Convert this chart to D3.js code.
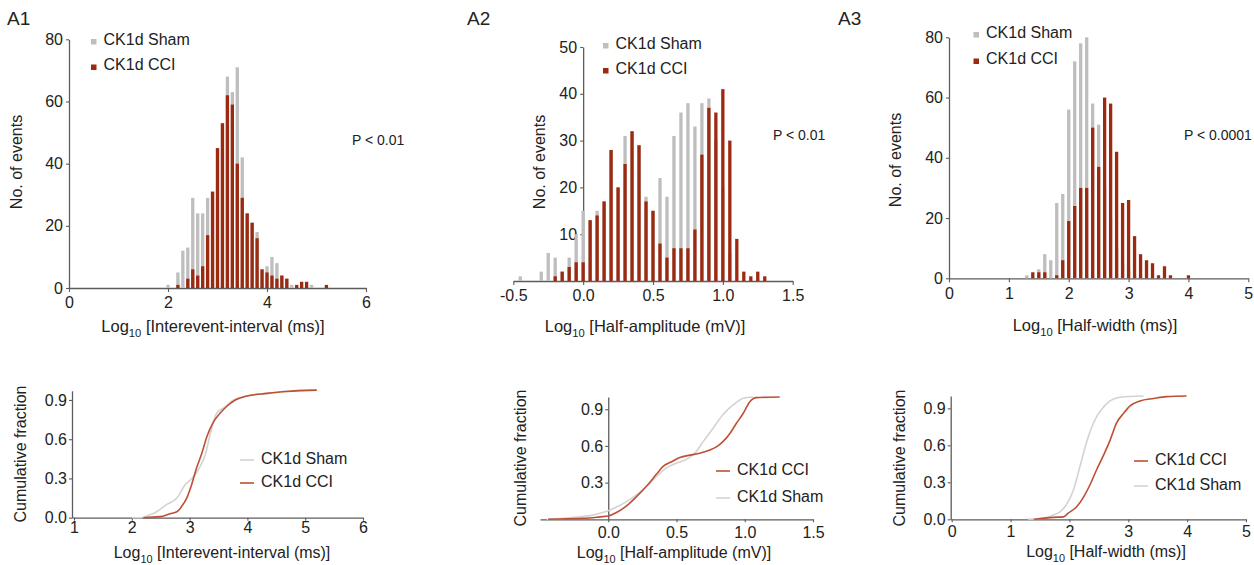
<!DOCTYPE html>
<html><head><meta charset="utf-8">
<script src="https://cdn.jsdelivr.net/npm/d3@7"></script>
<style>
body{margin:0;background:#fff;}
svg text{font-family:"Liberation Sans",Arial,Helvetica,sans-serif;fill:#222;}
</style></head><body>
<svg id="fig" width="1254" height="565"></svg>
<script>
// ---------- Histogram data (bin centres, counts per bin) ----------
const a1Bins = [2.0,2.1,2.2,2.3,2.4,2.5,2.6,2.7,2.8,2.9,3.0,3.1,3.2,3.3,3.4,3.5,3.6,3.7,3.8,3.9,4.0,4.1,4.2,4.3,4.4,4.5,4.6,4.7,4.8,4.9,5.0,5.1,5.2];
const a1Sham = [1,0,5,12,13,29,24,24,29,31,45,53,68,63,71,42,24,21,18,6,7,10,8,4,3,1,0,0,0,1,0,0,0];
const a1Cci  = [0,0,1,0,3,6,4,7,17,31,45,53,62,59,40,29,24,21,16,6,5,4,3,4,3,0,1,2,2,0,0,0,1];

const a2Bins = [-0.45,-0.40,-0.35,-0.30,-0.25,-0.20,-0.15,-0.10,-0.05,0.00,0.05,0.10,0.15,0.20,0.25,0.30,0.35,0.40,0.45,0.50,0.55,0.60,0.65,0.70,0.75,0.80,0.85,0.90,0.95,1.00,1.05,1.10,1.15,1.20,1.25,1.30];
const a2Sham = [1,0,0,2,6,5,2,5,10,15,13,15,17,28,20,31,32,29,18,15,22,18,31,36,38,33,38,39,30,20,6,0,0,0,0,0];
const a2Cci  = [0,0,0,0,0,1,2,3,4,4,13,14,17,28,20,25,32,29,17,15,8,5,7,7,7,11,27,37,36,41,30,9,2,1,2,1];

const a3Bins = [1.3,1.4,1.5,1.6,1.7,1.8,1.9,2.0,2.1,2.2,2.3,2.4,2.5,2.6,2.7,2.8,2.9,3.0,3.1,3.2,3.3,3.4,3.5,3.6,3.7,3.8,3.9,4.0];
const a3Sham = [1,0,3,8,6,25,28,56,72,78,80,58,51,30,20,10,5,3,1,1,0,0,0,0,0,0,0,0];
const a3Cci  = [0,2,2,2,0,1,6,19,24,30,30,50,37,60,58,42,25,26,14,8,6,5,1,4,1,0,0,1];

// ---------- Cumulative fraction curves ----------
const a1CumShamX = [2.0,2.14,2.3,2.43,2.6,2.78,2.92,3.04,3.1,3.18,3.27,3.36,3.47,3.59,3.76,3.99,4.34,4.6,5.2];
const a1CumShamY = [0,0,0.02,0.046,0.1,0.15,0.25,0.30,0.33,0.39,0.48,0.645,0.8,0.84,0.9,0.93,0.95,0.965,0.975];
const a1CumCciX  = [2.2,2.49,2.66,2.78,2.86,2.95,3.04,3.12,3.21,3.3,3.41,3.53,3.64,3.79,3.99,4.34,4.68,5.2];
const a1CumCciY  = [0,0.008,0.03,0.045,0.085,0.15,0.26,0.38,0.49,0.62,0.73,0.8,0.85,0.9,0.93,0.95,0.965,0.975];

const a2CumShamX = [-0.45,-0.256,-0.134,-0.06,0.0,0.06,0.134,0.207,0.28,0.354,0.427,0.5,0.573,0.634,0.695,0.768,0.84,0.915,0.99,1.06];
const a2CumShamY = [0,0.016,0.03,0.05,0.07,0.1,0.145,0.2,0.27,0.35,0.42,0.46,0.49,0.54,0.635,0.745,0.855,0.935,0.99,1.0];
const a2CumCciX  = [-0.44,-0.18,-0.06,0.0,0.06,0.134,0.207,0.28,0.354,0.4,0.463,0.524,0.598,0.67,0.744,0.79,0.84,0.89,0.939,0.988,1.036,1.085,1.256];
const a2CumCciY  = [0,0.008,0.02,0.027,0.055,0.11,0.185,0.27,0.37,0.43,0.47,0.505,0.525,0.54,0.567,0.59,0.635,0.7,0.785,0.865,0.96,0.995,1.0];

const a3CumShamX = [1.3,1.56,1.73,1.84,1.95,2.07,2.18,2.27,2.35,2.46,2.58,2.69,2.86,3.26];
const a3CumShamY = [0,0.01,0.035,0.06,0.12,0.24,0.43,0.59,0.71,0.83,0.91,0.96,0.99,1.0];
const a3CumCciX  = [1.4,1.73,1.9,1.98,2.12,2.24,2.35,2.46,2.58,2.69,2.8,2.92,3.03,3.2,3.43,3.65,3.99];
const a3CumCciY  = [0,0.016,0.02,0.05,0.1,0.18,0.28,0.4,0.52,0.64,0.78,0.86,0.92,0.96,0.98,0.995,1.0];

// ---------- Tick values and labels ----------
const a1HistXTicks = [0,2,4,6],            a1HistXLabels = ["0","2","4","6"];
const a1HistYTicks = [0,20,40,60,80],      a1HistYLabels = ["0","20","40","60","80"];
const a2HistXTicks = [-0.5,0,0.5,1,1.5],   a2HistXLabels = ["-0.5","0.0","0.5","1.0","1.5"];
const a2HistYTicks = [10,20,30,40,50],     a2HistYLabels = ["10","20","30","40","50"];
const a3HistXTicks = [0,1,2,3,4,5],        a3HistXLabels = ["0","1","2","3","4","5"];
const a3HistYTicks = [0,20,40,60,80],      a3HistYLabels = ["0","20","40","60","80"];

const a1CumXTicks = [1,2,3,4,5,6],         a1CumXLabels = ["1","2","3","4","5","6"];
const a2CumXTicks = [0,0.5,1,1.5],         a2CumXLabels = ["0.0","0.5","1.0","1.5"];
const a3CumXTicks = [0,1,2,3,4,5],         a3CumXLabels = ["0","1","2","3","4","5"];
const cumYTicks = [0,0.3,0.6,0.9],         cumYLabels = ["0.0","0.3","0.6","0.9"];
const a2CumYTicks = [0.3,0.6,0.9],         a2CumYLabels = ["0.3","0.6","0.9"];

const seriesNames = {sham: "CK1d Sham", cci: "CK1d CCI"};

// ---------- Styling ----------
const SHAM_BAR = "#bebebe", CCI_BAR = "#9b2a10";
const SHAM_LINE = "#d3d3d3", CCI_LINE = "#bd5034";
const AXIS = "#5c5c5c";
const BAR_W = 3.3;

const svg = d3.select("#fig");

function styleAxis(g) {
  g.select(".domain").attr("stroke", AXIS).attr("stroke-width", 1.3);
  g.selectAll(".tick line").attr("stroke", AXIS).attr("stroke-width", 1.1);
  g.selectAll(".tick text").attr("font-size", 16).attr("fill", "#222")
    .attr("font-family", '"Liberation Sans",Arial,sans-serif');
}

function logTitle(g, cx, y, rest, size) {
  const t = g.append("text").attr("x", cx).attr("y", y).attr("text-anchor", "middle")
    .attr("font-size", size);
  t.append("tspan").text("Log");
  t.append("tspan").attr("font-size", size * 0.68).attr("dy", 5).text("10");
  t.append("tspan").attr("dy", -5).text(" " + rest);
}

function yTitle(g, cx, cy, label) {
  g.append("text").attr("transform", `translate(${cx},${cy}) rotate(-90)`)
    .attr("text-anchor", "middle").attr("dy", "0.35em").attr("font-size", 16).text(label);
}

function histPanel(o) {
  const g = svg.append("g");
  const x = d3.scaleLinear().domain(o.xDomain).range(o.xRange);
  const y = d3.scaleLinear().domain(o.yDomain).range(o.yRange);

  const gx = g.append("g").attr("transform", `translate(0,${y(0)})`)
    .call(d3.axisBottom(x).tickValues(o.xTicks).tickFormat((d, i) => o.xLabels[i])
      .tickSize(4).tickSizeOuter(0).tickPadding(5));
  styleAxis(gx);
  const gy = g.append("g").attr("transform", `translate(${x(o.yAxisAt)},0)`)
    .call(d3.axisLeft(y).tickValues(o.yTicks).tickFormat((d, i) => o.yLabels[i])
      .tickSize(3).tickSizeOuter(0).tickPadding(o.yPad));
  styleAxis(gy);

  const bars = (vals, color) => g.append("g").selectAll("rect")
    .data(o.bins.map((b, i) => ({b, v: vals[i]})).filter(d => d.v > 0))
    .join("rect")
    .attr("x", d => x(d.b) - BAR_W / 2).attr("width", BAR_W)
    .attr("y", d => y(d.v)).attr("height", d => y(0) - y(d.v))
    .attr("fill", color);
  bars(o.sham, SHAM_BAR);
  bars(o.cci, CCI_BAR);

  // legend
  const lg = g.append("g");
  [[seriesNames.sham, SHAM_BAR, o.leg[1]], [seriesNames.cci, CCI_BAR, o.leg[2]]].forEach(([name, col, base]) => {
    lg.append("rect").attr("x", o.leg[0]).attr("y", base - 5.5).attr("width", 5.5).attr("height", 5.5).attr("fill", col);
    lg.append("text").attr("x", o.leg[0] + 12.5).attr("y", base).attr("font-size", 16).text(name);
  });

  g.append("text").attr("x", o.p[0]).attr("y", o.p[1]).attr("font-size", 14).text(o.pText);
  g.append("text").attr("x", o.tag[0]).attr("y", o.tag[1]).attr("font-size", 19).text(o.tagText);
  yTitle(g, o.yTitle[0], o.yTitle[1], "No. of events");
  logTitle(g, o.xTitle[0], o.xTitle[1], o.xTitleText, 16.5);
}

function cumPanel(o) {
  const g = svg.append("g");
  const x = d3.scaleLinear().domain(o.xDomain).range(o.xRange);
  const y = d3.scaleLinear().domain(o.yDomain).range(o.yRange);

  const gx = g.append("g").attr("transform", `translate(0,${y(0)})`)
    .call(d3.axisBottom(x).tickValues(o.xTicks).tickFormat((d, i) => o.xLabels[i])
      .tickSize(3).tickSizeOuter(0).tickPadding(o.xPad));
  styleAxis(gx);
  const gy = g.append("g").attr("transform", `translate(${o.yAxisX !== undefined ? o.yAxisX : x(o.yAxisAt)},0)`)
    .call(d3.axisLeft(y).tickValues(o.yTicks).tickFormat((d, i) => o.yLabels[i])
      .tickSize(3).tickSizeOuter(0).tickPadding(2));
  styleAxis(gy);

  const line = d3.line().x(d => x(d[0])).y(d => y(d[1])).curve(d3.curveMonotoneX);
  const draw = (xs, ys, col) => g.append("path")
    .datum(xs.map((v, i) => [v, ys[i]]))
    .attr("d", line).attr("fill", "none").attr("stroke", col).attr("stroke-width", 1.6);
  draw(o.shamX, o.shamY, SHAM_LINE);
  draw(o.cciX, o.cciY, CCI_LINE);

  const lg = g.append("g");
  o.legend.forEach(([key, base]) => {
    const col = key === "sham" ? SHAM_LINE : CCI_LINE;
    lg.append("line").attr("x1", o.legX).attr("x2", o.legX + 14)
      .attr("y1", base - 4).attr("y2", base - 4).attr("stroke", col).attr("stroke-width", 1.6);
    lg.append("text").attr("x", o.legX + 21).attr("y", base).attr("font-size", 16).text(seriesNames[key]);
  });

  yTitle(g, o.yTitle[0], o.yTitle[1], "Cumulative fraction");
  logTitle(g, o.xTitle[0], o.xTitle[1], o.xTitleText, 16);
}

// ---------- Top row: histograms ----------
histPanel({
  bins: a1Bins, sham: a1Sham, cci: a1Cci,
  xDomain: [0, 6], xRange: [69, 366], yDomain: [0, 80], yRange: [288, 39.3],
  xTicks: a1HistXTicks, xLabels: a1HistXLabels, yTicks: a1HistYTicks, yLabels: a1HistYLabels,
  yAxisAt: 0, yPad: 3,
  leg: [91, 44.5, 70], p: [352, 145], pText: "P < 0.01",
  tag: [7, 25], tagText: "A1", yTitle: [16, 162], xTitle: [213, 332],
  xTitleText: "[Interevent-interval (ms)]"
});
histPanel({
  bins: a2Bins, sham: a2Sham, cci: a2Cci,
  xDomain: [-0.5, 1.5], xRange: [513.3, 792.7], yDomain: [0, 50], yRange: [281, 47],
  xTicks: a2HistXTicks, xLabels: a2HistXLabels, yTicks: a2HistYTicks, yLabels: a2HistYLabels,
  yAxisAt: 0, yPad: 3,
  leg: [603, 48.5, 73.5], p: [773, 140], pText: "P < 0.01",
  tag: [467, 25], tagText: "A2", yTitle: [539, 162], xTitle: [645, 332],
  xTitleText: "[Half-amplitude (mV)]"
});
histPanel({
  bins: a3Bins, sham: a3Sham, cci: a3Cci,
  xDomain: [0, 5], xRange: [949, 1248.3], yDomain: [0, 80], yRange: [278.3, 37.3],
  xTicks: a3HistXTicks, xLabels: a3HistXLabels, yTicks: a3HistYTicks, yLabels: a3HistYLabels,
  yAxisAt: 0, yPad: 3,
  leg: [973.5, 37.5, 64], p: [1184, 140], pText: "P < 0.0001",
  tag: [838, 25], tagText: "A3", yTitle: [895.5, 160], xTitle: [1095, 331],
  xTitleText: "[Half-width (ms)]"
});

// ---------- Bottom row: cumulative fractions ----------
cumPanel({
  shamX: a1CumShamX, shamY: a1CumShamY, cciX: a1CumCciX, cciY: a1CumCciY,
  xDomain: [0.965, 6], xRange: [72, 363], yDomain: [0, 0.97], yRange: [517.7, 390.8],
  xTicks: a1CumXTicks, xLabels: a1CumXLabels, yTicks: cumYTicks, yLabels: cumYLabels,
  yAxisX: 72, xPad: 1,
  legX: 240, legend: [["sham", 464], ["cci", 487]],
  yTitle: [20, 454], xTitle: [222, 558], xTitleText: "[Interevent-interval (ms)]"
});
cumPanel({
  shamX: a2CumShamX, shamY: a2CumShamY, cciX: a2CumCciX, cciY: a2CumCciY,
  xDomain: [-0.5, 1.5], xRange: [540, 813], yDomain: [0, 1], yRange: [519.3, 397],
  xTicks: a2CumXTicks, xLabels: a2CumXLabels, yTicks: a2CumYTicks, yLabels: a2CumYLabels,
  yAxisAt: 0, xPad: 4,
  legX: 716, legend: [["cci", 475], ["sham", 502]],
  yTitle: [520, 458], xTitle: [674, 558], xTitleText: "[Half-amplitude (mV)]"
});
cumPanel({
  shamX: a3CumShamX, shamY: a3CumShamY, cciX: a3CumCciX, cciY: a3CumCciY,
  xDomain: [-0.017, 5], xRange: [950.7, 1246], yDomain: [0, 1], yRange: [519.3, 396],
  xTicks: a3CumXTicks, xLabels: a3CumXLabels, yTicks: cumYTicks, yLabels: cumYLabels,
  yAxisX: 950.7, xPad: 3,
  legX: 1134, legend: [["cci", 465], ["sham", 490]],
  yTitle: [899.5, 458], xTitle: [1106, 557], xTitleText: "[Half-width (ms)]"
});
</script>
</body></html>
